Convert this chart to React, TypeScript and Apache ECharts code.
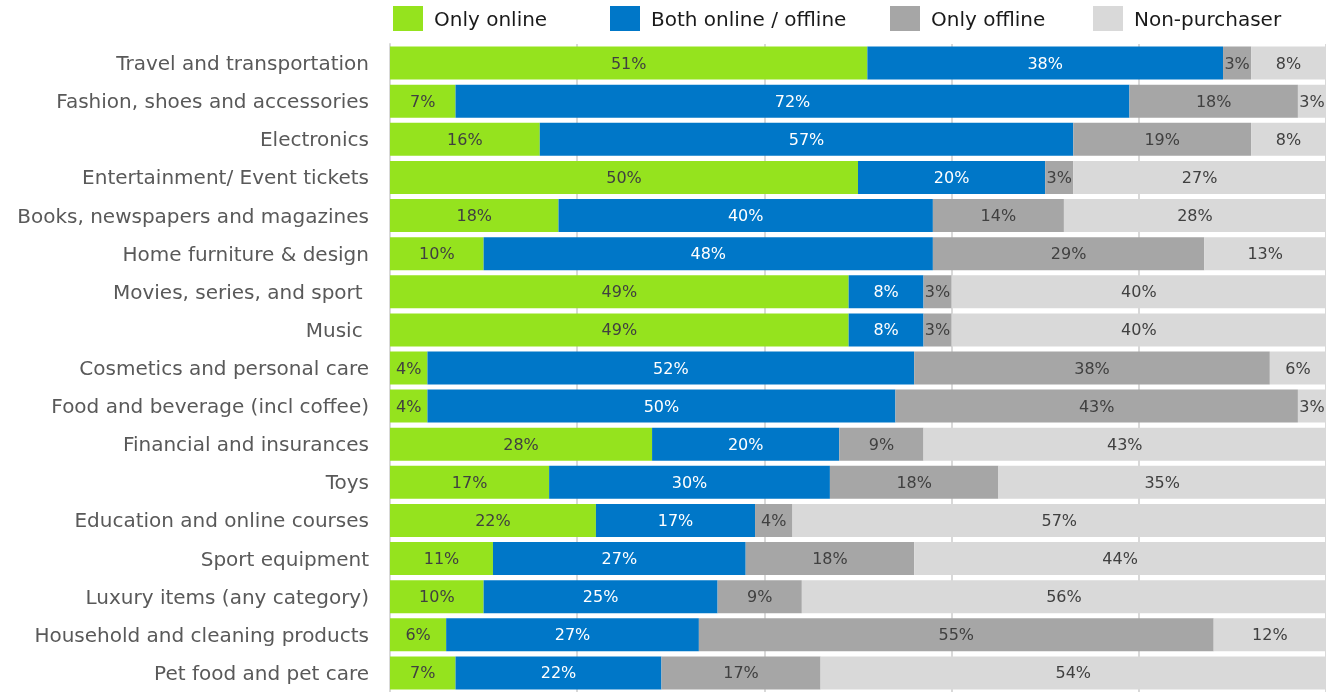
import React, { useEffect, useRef } from "react";
import * as echarts from "echarts";

const categories = [
  "Travel and transportation",
  "Fashion, shoes and accessories",
  "Electronics",
  "Entertainment/ Event tickets",
  "Books, newspapers and magazines",
  "Home furniture & design",
  "Movies, series, and sport ",
  "Music ",
  "Cosmetics and personal care",
  "Food and beverage (incl coffee)",
  "Financial and insurances",
  "Toys",
  "Education and online courses",
  "Sport equipment",
  "Luxury items (any category)",
  "Household and cleaning products",
  "Pet food and pet care",
];

const onlyOnline = [51, 7, 16, 50, 18, 10, 49, 49, 4, 4, 28, 17, 22, 11, 10, 6, 7];
const bothOnlineOffline = [38, 72, 57, 20, 40, 48, 8, 8, 52, 50, 20, 30, 17, 27, 25, 27, 22];
const onlyOffline = [3, 18, 19, 3, 14, 29, 3, 3, 38, 43, 9, 18, 4, 18, 9, 55, 17];
const nonPurchaser = [8, 3, 8, 27, 28, 13, 40, 40, 6, 3, 43, 35, 57, 44, 56, 12, 54];

const seriesNames = ["Only online", "Both online / offline", "Only offline", "Non-purchaser"];
const seriesColors = ["#95e31e", "#0077c8", "#a6a6a6", "#d9d9d9"];
const labelColors = ["#404040", "#ffffff", "#404040", "#404040"];
const legendLeft = [388, 605, 885, 1088];

const FONT = "DejaVu Sans";

export default function App() {
  const ref = useRef<HTMLDivElement>(null);
  useEffect(() => {
    if (!ref.current) return;
    const chart = echarts.init(ref.current, null, { renderer: "svg" });
    const values = [onlyOnline, bothOnlineOffline, onlyOffline, nonPurchaser];
    chart.setOption({
      animation: false,
      textStyle: { fontFamily: FONT },
      legend: seriesNames.map((n, i) => ({
        data: [n],
        left: legendLeft[i],
        top: 1,
        itemWidth: 30,
        itemHeight: 25,
        itemGap: 12,
        icon: "rect",
        textStyle: {
          fontSize: 20,
          color: "#1a1a1a",
          fontFamily: FONT,
          padding: [0, 0, 2, 6],
        },
      })),
      grid: { left: 390, right: 0, top: 44, height: 650, containLabel: false },
      xAxis: {
        type: "value",
        min: 0,
        max: 100,
        interval: 20,
        axisLabel: { show: false },
        axisLine: { show: false },
        axisTick: { show: false },
        splitLine: { show: true, lineStyle: { color: "#d9d9d9", width: 2 } },
      },
      yAxis: {
        type: "category",
        inverse: true,
        data: categories,
        axisTick: { show: false },
        axisLine: { show: true, lineStyle: { color: "#d9d9d9", width: 2 } },
        axisLabel: { fontSize: 20, color: "#595959", margin: 21, fontFamily: FONT },
      },
      series: seriesNames.map((n, i) => ({
        name: n,
        type: "bar",
        stack: "total",
        barWidth: 33,
        data: values[i],
        itemStyle: { color: seriesColors[i] },
        label: {
          show: true,
          position: "inside",
          formatter: "{c}%",
          fontSize: 16,
          color: labelColors[i],
          fontFamily: FONT,
        },
      })),
    });
    return () => chart.dispose();
  }, []);
  return (
    <div
      ref={ref}
      style={{ position: "fixed", left: 0, top: 0, width: 1326, height: 692 }}
    />
  );
}
